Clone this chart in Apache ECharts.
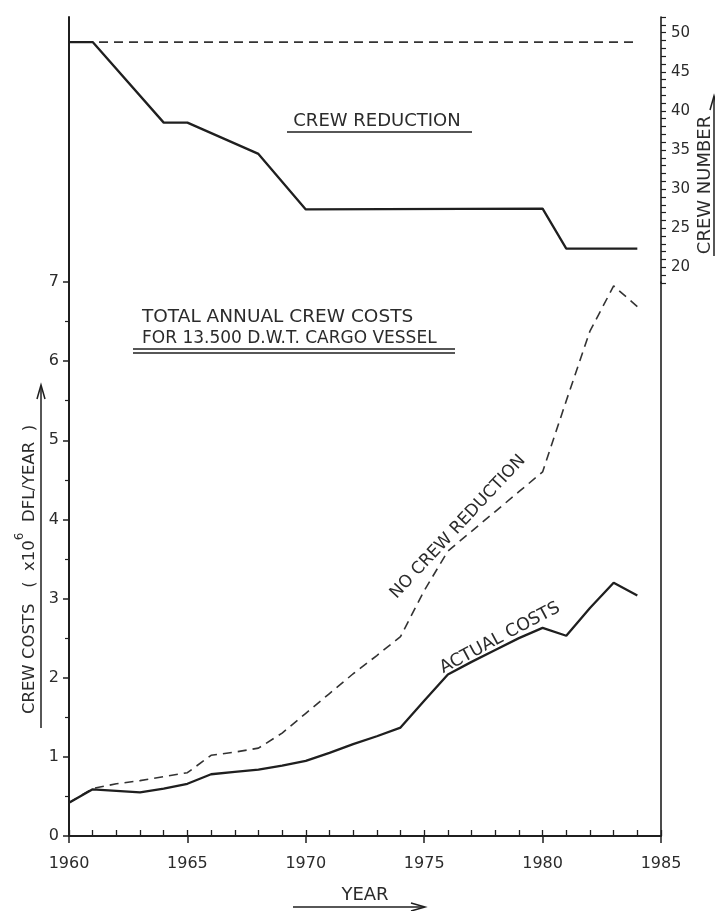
<!DOCTYPE html>
<html>
<head>
<meta charset="utf-8">
<script src="https://cdn.jsdelivr.net/npm/echarts@6/dist/echarts.min.js"></script>
<style>
html,body{margin:0;padding:0;background:#fff;}
#chart{width:715px;height:911px;}
</style>
</head>
<body>
<div id="chart"></div>
<script>
// ---- data ----
const years = [1960,1961,1962,1963,1964,1965,1966,1967,1968,1969,1970,1971,1972,1973,1974,1975,1976,1977,1978,1979,1980,1981,1982,1983,1984];
const actualCosts = [0.42,0.59,0.57,0.55,0.60,0.66,0.78,0.81,0.84,0.89,0.95,1.05,1.16,1.26,1.37,1.71,2.04,2.20,2.35,2.50,2.63,2.53,2.88,3.20,3.04];
const noReductionCosts = [0.42,0.60,0.66,0.70,0.75,0.80,1.02,1.06,1.11,1.30,1.55,1.80,2.05,2.28,2.52,3.10,3.60,3.85,4.10,4.35,4.60,5.50,6.38,6.95,6.69];

const crewYears = [1960,1961,1964,1965,1968,1970,1980,1981,1984];
const crewActual = [48.8,48.8,38.5,38.5,34.5,27.4,27.5,22.4,22.4];
const crewNoReduction = [48.8,48.8,48.8,48.8,48.8,48.8,48.8,48.8,48.8];

const costTicks = [0,1,2,3,4,5,6,7];
const crewTicks = [20,25,30,35,40,45,50];
const yearTicks = [1960,1965,1970,1975,1980,1985];

const INK = '#1f1f1f';
const TXT = '#2b2b2b';
const FONT = "'DejaVu Sans',sans-serif";

const chart = echarts.init(document.getElementById('chart'), null, {renderer:'canvas'});

function pairs(xs, ys){ return xs.map((x,i)=>[x, ys[i]]); }

const option = {
  animation: false,
  backgroundColor: '#fff',
  textStyle: {fontFamily: FONT, color: TXT},
  grid: [
    {left: 69, right: 54, top: 282, bottom: 75},
    {left: 69, right: 54, top: 17, height: 266}
  ],
  xAxis: [
    {
      gridIndex: 0, type: 'value', min: 1960, max: 1985, interval: 5,
      axisLine: {show: true, lineStyle: {color: INK, width: 2}},
      axisTick: {show: true, inside: false, length: 7, lineStyle: {color: INK, width: 1.5}},
      axisLabel: {show: true, margin: 20, fontSize: 16, color: TXT, fontFamily: FONT,
        formatter: v => yearTicks.includes(v) ? String(v) : ''},
      splitLine: {show: false},
      name: 'YEAR', nameLocation: 'middle', nameGap: 50,
      nameTextStyle: {fontSize: 18, color: TXT, fontFamily: FONT}
    },
    {
      gridIndex: 0, type: 'value', min: 1960, max: 1985, interval: 1, position: 'bottom',
      axisLine: {show: false},
      axisTick: {show: true, inside: true, length: 6, lineStyle: {color: INK, width: 1.3}},
      axisLabel: {show: false},
      splitLine: {show: false}
    },
    {
      gridIndex: 1, type: 'value', min: 1960, max: 1985, show: false
    }
  ],
  yAxis: [
    {
      gridIndex: 0, type: 'value', position: 'left', min: 0, max: 7, interval: 1,
      axisLine: {show: true, lineStyle: {color: INK, width: 2}},
      axisTick: {show: true, inside: false, length: 6, lineStyle: {color: INK, width: 1.5}},
      minorTick: {show: true, splitNumber: 2, length: 4, lineStyle: {color: INK, width: 1.2}},
      axisLabel: {show: true, margin: 10, fontSize: 16, color: TXT, fontFamily: FONT,
        formatter: v => costTicks.includes(v) ? String(v) : ''},
      splitLine: {show: false},
      name: '{t|CREW COSTS   (  x10}{s|6}{t|  DFL/YEAR  )    }',
      nameLocation: 'middle', nameRotate: 90, nameGap: 30,
      nameTextStyle: {
        fontFamily: FONT, color: TXT,
        rich: {
          t: {fontSize: 16.5, fontFamily: FONT, color: TXT, lineHeight: 24, verticalAlign: 'bottom'},
          s: {fontSize: 12, fontFamily: FONT, color: TXT, lineHeight: 24, verticalAlign: 'top'}
        }
      }
    },
    {
      gridIndex: 0, type: 'value', position: 'right', min: 0, max: 1,
      axisLine: {show: true, lineStyle: {color: INK, width: 1.6}},
      axisTick: {show: false}, axisLabel: {show: false}, splitLine: {show: false}
    },
    {
      gridIndex: 1, type: 'value', position: 'right', min: 18, max: 52, interval: 1,
      axisLine: {show: true, lineStyle: {color: INK, width: 1.6}},
      axisTick: {show: true, inside: false, length: 5, lineStyle: {color: INK, width: 1.2}},
      axisLabel: {show: true, margin: 10, fontSize: 15, color: TXT, fontFamily: FONT,
        formatter: v => crewTicks.includes(v) ? String(v) : ''},
      splitLine: {show: false}
    },
    {
      gridIndex: 1, type: 'value', position: 'left', min: 0, max: 1,
      axisLine: {show: true, lineStyle: {color: INK, width: 2}},
      axisTick: {show: false}, axisLabel: {show: false}, splitLine: {show: false}
    }
  ],
  series: [
    {
      name: 'No crew reduction (costs)', type: 'line', xAxisIndex: 0, yAxisIndex: 0,
      data: pairs(years, noReductionCosts), symbol: 'none', z: 2,
      lineStyle: {color: '#333', width: 1.6, type: [9, 6]}
    },
    {
      name: 'Actual costs', type: 'line', xAxisIndex: 0, yAxisIndex: 0,
      data: pairs(years, actualCosts), symbol: 'none', z: 3,
      lineStyle: {color: INK, width: 2.3}
    },
    {
      name: 'Crew without reduction', type: 'line', xAxisIndex: 2, yAxisIndex: 2,
      data: pairs(crewYears, crewNoReduction), symbol: 'none', z: 2,
      lineStyle: {color: '#333', width: 1.7, type: [9, 6]}
    },
    {
      name: 'Crew reduction', type: 'line', xAxisIndex: 2, yAxisIndex: 2,
      data: pairs(crewYears, crewActual), symbol: 'none', z: 3,
      lineStyle: {color: INK, width: 2.3}
    }
  ],
  graphic: [
    // CREW REDUCTION heading
    {type: 'text', style: {text: 'CREW REDUCTION', x: 377, y: 121, align: 'center', verticalAlign: 'middle', fontSize: 18, fontFamily: FONT, fill: TXT}},
    {type: 'line', shape: {x1: 287, y1: 132, x2: 472, y2: 132}, style: {stroke: INK, lineWidth: 1.6}},
    // total annual crew costs heading
    {type: 'text', style: {text: 'TOTAL ANNUAL CREW COSTS', x: 142, y: 317, align: 'left', verticalAlign: 'middle', fontSize: 18.5, fontFamily: FONT, fill: TXT}},
    {type: 'text', style: {text: 'FOR 13.500 D.W.T. CARGO VESSEL', x: 142, y: 339, align: 'left', verticalAlign: 'middle', fontSize: 17, fontFamily: FONT, fill: TXT}},
    {type: 'line', shape: {x1: 133, y1: 349, x2: 455, y2: 349}, style: {stroke: INK, lineWidth: 1.4}},
    {type: 'line', shape: {x1: 133, y1: 353, x2: 455, y2: 353}, style: {stroke: INK, lineWidth: 1.4}},
    // line labels
    {type: 'text', x: 458, y: 527, rotation: 47 * Math.PI / 180, style: {text: 'NO CREW REDUCTION', x: 0, y: 0, align: 'center', verticalAlign: 'middle', fontSize: 17, fontFamily: FONT, fill: TXT}},
    {type: 'text', x: 500, y: 638, rotation: 28 * Math.PI / 180, style: {text: 'ACTUAL COSTS', x: 0, y: 0, align: 'center', verticalAlign: 'middle', fontSize: 17.5, fontFamily: FONT, fill: TXT}},
    // crew number title
    {type: 'text', x: 705, y: 185, rotation: Math.PI / 2, style: {text: 'CREW NUMBER', x: 0, y: 0, align: 'center', verticalAlign: 'middle', fontSize: 18, fontFamily: FONT, fill: TXT}},
    {type: 'line', shape: {x1: 714, y1: 256, x2: 714, y2: 97}, style: {stroke: INK, lineWidth: 1.5}},
    {type: 'polyline', shape: {points: [[710, 110], [714, 96], [718, 110]]}, style: {stroke: INK, lineWidth: 1.5, fill: null}},
    // y title arrow
    {type: 'line', shape: {x1: 41, y1: 728, x2: 41, y2: 386}, style: {stroke: INK, lineWidth: 1.5}},
    {type: 'polyline', shape: {points: [[37, 399], [41, 385], [45, 399]]}, style: {stroke: INK, lineWidth: 1.5, fill: null}},
    // x title arrow
    {type: 'line', shape: {x1: 293, y1: 907, x2: 424, y2: 907}, style: {stroke: INK, lineWidth: 1.5}},
    {type: 'polyline', shape: {points: [[411, 903], [425, 907], [411, 911]]}, style: {stroke: INK, lineWidth: 1.5, fill: null}}
  ]
};
chart.setOption(option);
</script>
</body>
</html>
